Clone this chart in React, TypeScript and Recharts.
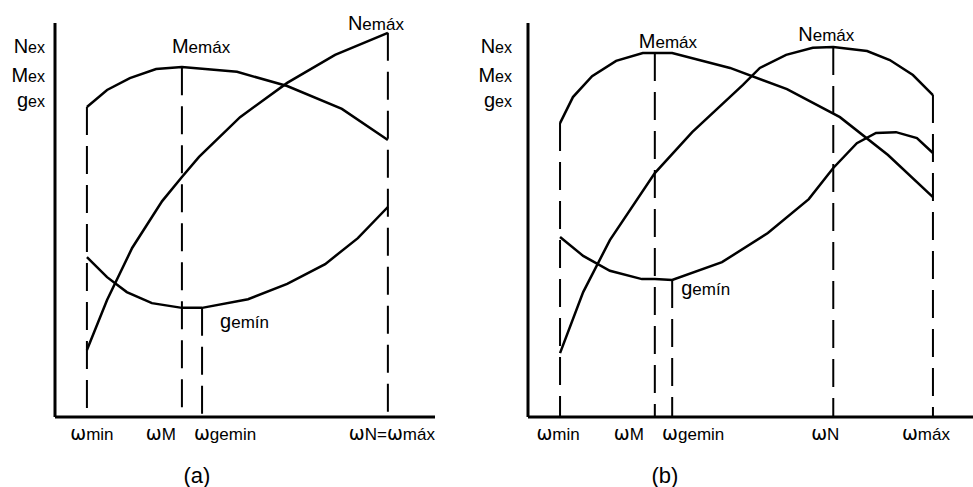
import React from 'react';
import { LineChart, Line, XAxis, YAxis, ReferenceLine, ReferenceDot } from 'recharts';

// ω runs 0–100 across each x axis, curve values are % of the axis height

// panel (a): ωN = ωmáx
const speedsA = [8.4, 33.4, 38.7, 87.6];
const speedLabelsA = ['ωmin', 'ωM', 'ωgemin', 'ωN=ωmáx'];
const guideTopsA = [78.7, 88.8, 27.7, 97.5];
const torqueA = [[8.4, 78.7], [13.7, 83.0], [19.7, 86.0], [26.6, 88.3], [33.4, 88.8], [47.9, 87.6], [61.1, 84.0], [75.5, 78.2], [87.6, 70.3]];
const powerA = [[8.4, 17.0], [13.7, 29.7], [20.3, 42.9], [28.2, 54.8], [33.4, 60.9], [37.9, 66.0], [48.7, 76.1], [61.1, 84.8], [73.7, 91.9], [87.6, 97.5]];
const fuelA = [[8.4, 40.6], [13.7, 35.5], [18.9, 31.7], [25.5, 28.9], [33.4, 27.7], [38.7, 27.7], [50.8, 29.9], [61.1, 33.8], [71.1, 38.8], [79.7, 45.4], [87.6, 53.3]];

// panel (b): ωN < ωmáx
const speedsB = [7.2, 28.5, 32.4, 68.6, 91.0];
const speedLabelsB = ['ωmin', 'ωM', 'ωgemin', 'ωN', 'ωmáx'];
const guideTopsB = [74.6, 92.4, 34.8, 93.9, 81.7];
const torqueB = [[7.2, 74.6], [10.1, 81.2], [14.4, 86.5], [19.8, 90.4], [25.8, 92.4], [28.5, 92.4], [32.4, 92.4], [45.4, 88.6], [58.2, 83.2], [70.1, 76.1], [80.9, 66.5], [91.0, 55.8]];
const powerB = [[7.2, 16.2], [12.4, 31.7], [18.4, 44.9], [28.5, 61.9], [36.9, 72.3], [48.3, 84.3], [52.1, 88.6], [58.0, 91.9], [64.0, 93.7], [68.6, 93.9], [76.2, 92.9], [81.3, 90.6], [86.5, 86.8], [91.0, 81.7]];
const fuelB = [[7.2, 45.7], [12.4, 40.9], [18.4, 37.1], [25.6, 35.0], [28.5, 35.0], [32.4, 34.8], [43.6, 39.3], [53.9, 46.7], [63.1, 55.3], [68.6, 63.2], [73.9, 69.5], [78.2, 72.1], [82.7, 72.3], [87.4, 70.8], [91.0, 67.0]];

const FONT = 'Arial, "Liberation Sans", Helvetica, sans-serif';
const OMEGA_FONT = '"DejaVu Sans", sans-serif';
const H = 487;
const Y_W = 20;

const toPoints = (pts: number[][]) => pts.map(([w, v]) => ({ w, v }));

function OmegaText({ text }: { text: string }) {
  const parts = text.split('ω');
  const out: React.ReactNode[] = [];
  parts.forEach((p, i) => {
    if (i > 0) out.push(<tspan key={'w' + i} style={{ fontFamily: OMEGA_FONT, fontSize: 19 }}>ω</tspan>);
    if (p) out.push(<tspan key={'t' + i}>{p}</tspan>);
  });
  return <>{out}</>;
}

function SpeedTick(props: any) {
  const { x, y, payload, speeds, labels, shift } = props;
  const i = speeds.indexOf(payload.value);
  if (i < 0) return null;
  return (
    <text x={x + shift[i]} y={y + 15} textAnchor="middle" fill="#000" style={{ fontFamily: FONT, fontSize: 17 }}>
      <OmegaText text={labels[i]} />
    </text>
  );
}

function AxisTitle({ viewBox, gap }: any) {
  const x = viewBox.x + viewBox.width - gap;
  const rows = [['N', 'ex', 30], ['M', 'ex', 59], ['g', 'ex', 84]] as const;
  return (
    <g>
      {rows.map(([a, b, dy]) => (
        <text key={a} x={x} y={viewBox.y + dy} textAnchor="end" fill="#000" style={{ fontFamily: FONT }}>
          <tspan style={{ fontSize: 20 }}>{a}</tspan>
          <tspan style={{ fontSize: 16 }}>{b}</tspan>
        </text>
      ))}
    </g>
  );
}

function Note({ cx, cy, big, small, dx, dy }: any) {
  return (
    <text x={cx + dx} y={cy + dy} fill="#000" style={{ fontFamily: FONT }}>
      <tspan style={{ fontSize: 20 }}>{big}</tspan>
      <tspan style={{ fontSize: 17 }}>{small}</tspan>
    </text>
  );
}

interface NoteSpec {
  w: number;
  v: number;
  big: string;
  small: string;
  dx: number;
  dy: number;
}

interface PanelProps {
  left: number;
  width: number;
  margin: { top: number; right: number; bottom: number; left: number };
  speeds: number[];
  labels: string[];
  tops: number[];
  shift: number[];
  curves: number[][][];
  notes: NoteSpec[];
  caption: string;
  captionDx: number;
  titleGap: number;
}

function Panel({ left, width, margin, speeds, labels, tops, shift, curves, notes, caption, captionDx, titleGap }: PanelProps) {
  return (
    <div style={{ position: 'absolute', left, top: 0 }}>
      <LineChart width={width} height={H} margin={margin}>
        <XAxis
          dataKey="w"
          type="number"
          domain={[0, 100]}
          ticks={speeds}
          interval={0}
          tickLine={false}
          axisLine={{ stroke: '#000', strokeWidth: 3 }}
          height={70}
          tick={<SpeedTick speeds={speeds} labels={labels} shift={shift} />}
          label={(p: any) => (
            <text x={p.viewBox.x + captionDx} y={p.viewBox.y + 66} textAnchor="middle" fill="#000" style={{ fontFamily: FONT, fontSize: 22 }}>
              {caption}
            </text>
          )}
        />
        <YAxis
          type="number"
          domain={[0, 100]}
          width={Y_W}
          tick={false}
          tickLine={false}
          axisLine={{ stroke: '#000', strokeWidth: 3 }}
          label={(p: any) => <AxisTitle viewBox={p.viewBox} gap={titleGap} />}
        />
        {speeds.map((w, i) => (
          <ReferenceLine
            key={w}
            segment={[{ x: w, y: tops[i] }, { x: w, y: 0 }]}
            stroke="#000"
            strokeWidth={2}
            strokeDasharray="28 11"
            ifOverflow="visible"
          />
        ))}
        {curves.map((c, i) => (
          <Line
            key={i}
            data={toPoints(c)}
            dataKey="v"
            type="linear"
            stroke="#000"
            strokeWidth={2.5}
            dot={false}
            activeDot={false}
            isAnimationActive={false}
          />
        ))}
        {notes.map((n) => (
          <ReferenceDot
            key={n.big + n.small}
            x={n.w}
            y={n.v}
            r={0}
            ifOverflow="visible"
            shape={(p: any) => <Note cx={p.cx} cy={p.cy} big={n.big} small={n.small} dx={n.dx} dy={n.dy} />}
          />
        ))}
      </LineChart>
    </div>
  );
}

export default function App() {
  return (
    <div style={{ position: 'absolute', left: 0, top: 0, width: 973, height: H, background: '#fff', overflow: 'hidden' }}>
      <Panel
        left={0}
        width={470}
        margin={{ top: 23, right: 35, bottom: 0, left: 55 - Y_W }}
        speeds={speedsA}
        labels={speedLabelsA}
        tops={guideTopsA}
        shift={[5, -21, 23, 4]}
        curves={[torqueA, powerA, fuelA]}
        notes={[
          { w: 33.4, v: 88.8, big: 'M', small: 'emáx', dx: -10, dy: -14 },
          { w: 87.6, v: 97.5, big: 'N', small: 'emáx', dx: -40, dy: -3 },
          { w: 38.7, v: 27.7, big: 'g', small: 'emín', dx: 18, dy: 20 },
        ]}
        caption="(a)"
        captionDx={142}
        titleGap={10}
      />
      <Panel
        left={470}
        width={503}
        margin={{ top: 23, right: 0, bottom: 0, left: 58 - Y_W }}
        speeds={speedsB}
        labels={speedLabelsB}
        tops={guideTopsB}
        shift={[-2, -26, 21, -8, -7]}
        curves={[torqueB, powerB, fuelB]}
        notes={[
          { w: 28.5, v: 92.4, big: 'M', small: 'emáx', dx: -16, dy: -5 },
          { w: 68.6, v: 93.9, big: 'N', small: 'emáx', dx: -35, dy: -6 },
          { w: 32.4, v: 34.8, big: 'g', small: 'emín', dx: 9, dy: 15 },
        ]}
        caption="(b)"
        captionDx={137}
        titleGap={16}
      />
    </div>
  );
}
